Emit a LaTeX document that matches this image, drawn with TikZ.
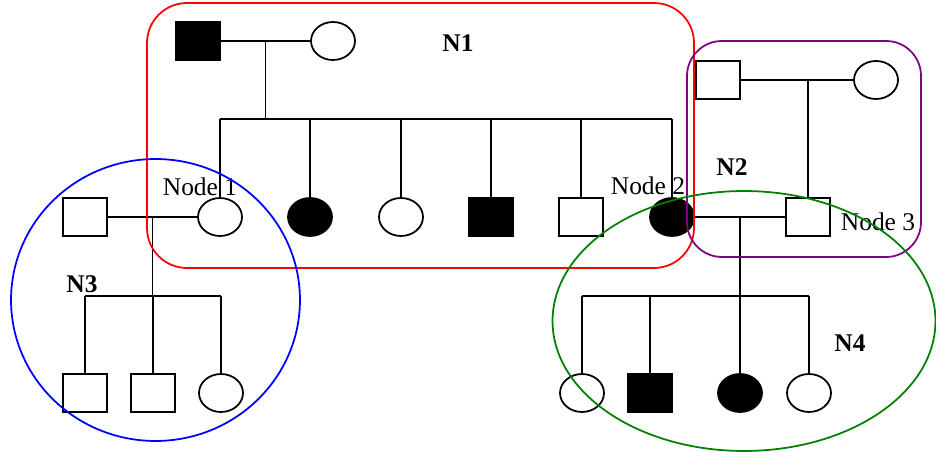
\documentclass[tikz,border=0pt]{standalone}
\usepackage{fontspec}
\setmainfont{Liberation Serif}
\usetikzlibrary{shapes.geometric,calc}
\definecolor{NET-RED}{RGB}{255,0,0}
\definecolor{NET-PURPLE}{RGB}{128,0,128}
\definecolor{NET-BLUE}{RGB}{0,0,255}
\definecolor{NET-GREEN}{RGB}{0,128,0}
\tikzset{
  male/.style={draw, line width=1pt, minimum width=0.88cm, minimum height=0.76cm, inner sep=0pt},
  female/.style={ellipse, draw, line width=1pt, minimum width=0.88cm, minimum height=0.76cm, inner sep=0pt},
  aff/.style={fill=black},
  link/.style={line width=1pt},
  netlabel/.style={font=\bfseries\fontsize{14.5}{16}\selectfont, anchor=base, inner sep=0pt},
  idlabel/.style={font=\fontsize{14.5}{16}\selectfont, anchor=base, inner sep=0pt},
  netline/.style={line width=1pt},
}

\begin{document}
\begin{tikzpicture}[x=0.02cm, y=-0.02cm]
  \useasboundingbox (0,0) rectangle (936,452);

  % Grandparents and their children (N1)
  \node[male, aff] (gf) at (198,41) {};
  \node[female] (gm) at (333,41) {};
  \node[female] (n1) at (220,217) {};
  \node[female, aff] (c2) at (310,217) {};
  \node[female] (c3) at (401,217) {};
  \node[male, aff] (c4) at (491,217) {};
  \node[male] (c5) at (581,217) {};
  \node[female, aff] (n2) at (672,217) {};

  % Parents of Node 3 (N2)
  \node[male] (gf2) at (718,80) {};
  \node[female] (gm2) at (876,80) {};
  \node[male] (n3) at (808,217) {};

  % Spouse of Node 1 and their children (N3)
  \node[male] (f3) at (85,217) {};
  \node[male] (d1) at (85,393) {};
  \node[male] (d2) at (153,393) {};
  \node[female] (d3) at (221,393) {};

  % Children of Node 2 and Node 3 (N4)
  \node[female] (e1) at (582,393) {};
  \node[male, aff] (e2) at (650,393) {};
  \node[female, aff] (e3) at (740,393) {};
  \node[female] (e4) at (809,393) {};

  % N1 lines
  \draw[link] (gf) -- (gm);
  \coordinate (m1) at ($(gf.east)!0.5!(gm.west)$);
  \coordinate (s1) at (0,119);
  \draw[link] (m1) -- (m1 |- s1);
  \draw[link] (s1 -| n1) -- (s1 -| n2);
  \foreach \c in {n1,c2,c3,c4,c5,n2}
    \draw[link] (s1 -| \c) -- (\c);

  % N2 lines
  \draw[link] (gf2) -- (gm2);
  \draw[link] (gf2 -| n3) -- (n3);

  % N3 lines
  \draw[link] (f3) -- (n1);
  \coordinate (m3) at ($(f3.east)!0.5!(n1.west)$);
  \coordinate (s3) at (0,296);
  \draw[link] (m3) -- (m3 |- s3);
  \draw[link] (s3 -| d1) -- (s3 -| d3);
  \foreach \c in {d1,d2,d3}
    \draw[link] (s3 -| \c) -- (\c);

  % N4 lines
  \draw[link] (n2) -- (n3);
  \coordinate (m4) at ($(n2.east)!0.5!(n3.west)$);
  \draw[link] (m4) -- (m4 |- s3);
  \draw[link] (s3 -| e1) -- (s3 -| e4);
  \foreach \c in {e1,e2,e3,e4}
    \draw[link] (s3 -| \c) -- (\c);

  % Labels
  \node[idlabel] (l1) at (200,196) {Node 1};
  \node[idlabel] (l2) at (648,195) {Node 2};
  \node[idlabel] (l3) at (878,231) {Node 3};
  \node[netlabel] (t1) at (458,52) {N1};
  \node[netlabel] (t2) at (732,176) {N2};
  \node[netlabel] (t3) at (82,293) {N3};
  \node[netlabel] (t4) at (850,352) {N4};

  % Network outlines
  \draw[netline, NET-RED, rounded corners=0.8cm] (147,3) rectangle (694,268);
  \draw[netline, NET-PURPLE, rounded corners=0.7cm] (687,41) rectangle (921,257);
  \draw[netline, NET-BLUE] (155.5,300) ellipse [x radius=2.89cm, y radius=2.82cm];
  \draw[netline, NET-GREEN] (744,321) ellipse [x radius=3.83cm, y radius=2.6cm];
\end{tikzpicture}
\end{document}
